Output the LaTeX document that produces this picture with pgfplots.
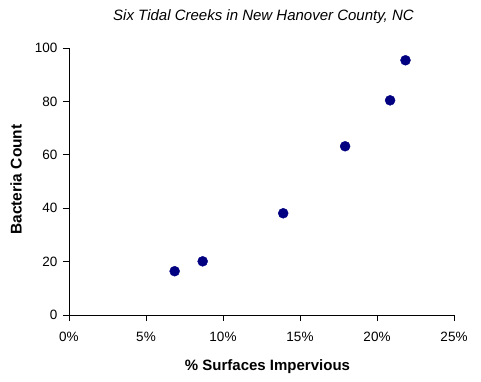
\documentclass[border=0pt]{standalone}
\usepackage{fontspec}
\setmainfont{Liberation Sans}
\usepackage{pgfplots}
\pgfplotsset{compat=1.18}
\definecolor{navyc}{HTML}{000080}
\begin{document}
\begin{tikzpicture}[x=1pt,y=1pt]
\begin{axis}[
  scale only axis, width=385pt, height=267pt,
  xmin=0, xmax=25, ymin=0, ymax=100,
  axis lines*=left,
  axis line style={black, line width=0.8pt},
  tick style={black, line width=0.8pt},
  tick align=outside, major tick length=6pt,
  xtick={0,5,10,15,20,25},
  xticklabels={0\%,5\%,10\%,15\%,20\%,25\%},
  ytick={0,20,40,60,80,100},
  /pgf/number format/assume math mode=true,
  tick label style={font=\fontsize{13.5}{15}\selectfont, text=black},
  xticklabel style={yshift=-8pt},
  yticklabel style={xshift=-2pt},
  xlabel={\% Surfaces Impervious},
  ylabel={Bacteria Count},
  xlabel style={font=\bfseries\fontsize{15}{17}\selectfont, at={(rel axis cs:0.5,0)}, anchor=center, yshift=-52pt, xshift=6pt},
  ylabel style={font=\bfseries\fontsize{15.5}{17}\selectfont, at={(rel axis cs:0,0.5)}, anchor=center, yshift=53pt, xshift=2pt},
  title={Six Tidal Creeks in New Hanover County, NC},
  title style={font=\itshape\fontsize{15}{17}\selectfont, at={(rel axis cs:0.5,1)}, anchor=center, yshift=25pt, xshift=2pt},
  clip=false,
]
\addplot[only marks, mark=*, mark size=5pt, color=navyc, mark options={fill=navyc, draw=navyc}] coordinates {
  (6.86,16.4) (8.68,20.1) (13.91,38.1) (17.93,63.2) (20.85,80.4) (21.85,95.4)
};
\coordinate (O) at (rel axis cs:0,0);
\end{axis}
\pgfresetboundingbox
\path (O) ++(-69pt,-67pt) rectangle ++(481pt,382pt);
\end{tikzpicture}
\end{document}
